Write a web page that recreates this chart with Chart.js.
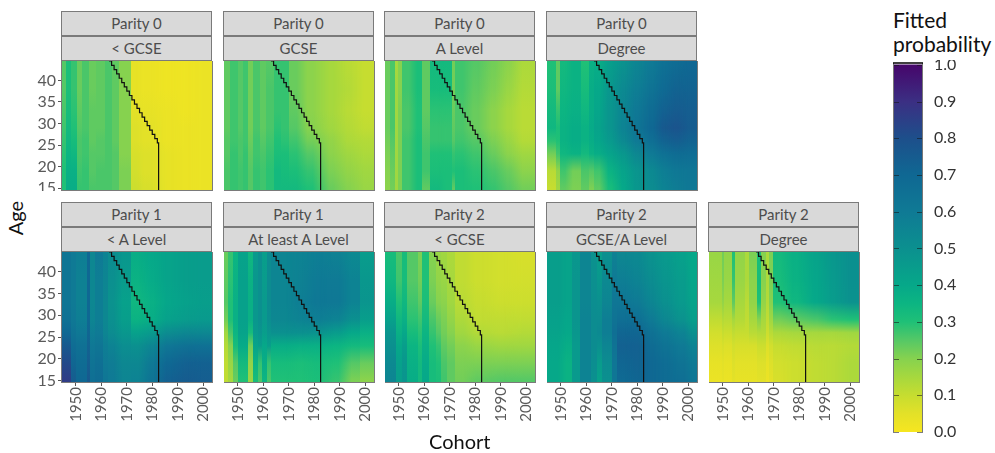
<!DOCTYPE html>
<html><head><meta charset="utf-8">
<script src="https://cdn.jsdelivr.net/npm/chart.js@4"></script>
<style>
html,body{margin:0;padding:0;background:#fff;width:995px;height:453px;overflow:hidden;font-family:Lato,sans-serif}
canvas{position:absolute;display:block}
.strip{position:absolute;box-sizing:border-box;background:#d9d9d9;border:1px solid #7a7a7a;color:#4d4d4d;font-size:15px;text-align:center;line-height:23px;height:25px;width:151px}
.t{position:absolute;color:#111;font-size:20px;white-space:nowrap}
</style></head><body>
<script>
const cohortTicks=[1950,1960,1970,1980,1990,2000];
const ageTicks=[15,20,25,30,35,40];
const legendTicks=[0,0.1,0.2,0.3,0.4,0.5,0.6,0.7,0.8,0.9,1];
const ageKnots=[44,38,33,29,26,23,19,15];
const boundaryCohort=[1963,1964,1965,1966,1967,1968,1969,1970,1971,1972,1973,1974,1975,1976,1977,1978,1979,1980,1981,1982,1982.5,1982.5];
const boundaryAge=[44.5,43.5,42.5,41.5,40.5,39.5,38.5,37.5,36.5,35.5,34.5,33.5,32.5,31.5,30.5,29.5,28.5,27.5,26.5,25.5,25.5,14];

const p0LtGcseCohort=[1944.5,1946,1948,1950.5,1952.5,1955,1958,1961.5,1964,1967,1971.5,1975,1982.5,1990,1997,2003.5];
const p0LtGcseValues=[
[25,31,28,23,26,23,24,26,24,20,4,3,2,2,3],
[25,31,28,23,26,23,24,26,24,20,4,3,2,2,3],
[26,32,29,24,26,24,24,26,24,20,5,4,3,2,3],
[27,33,30,25,26,24,24,26,24,20,6,5,3,3,3],
[28,34,32,26,27,24,25,26,24,20,6,5,3,3,3],
[29,35,34,26,27,25,25,26,25,20,7,6,4,3,3],
[30,37,37,27,28,25,26,26,25,21,8,6,4,3,3],
[30,38,38,28,28,26,26,26,25,21,9,7,4,3,3]];
const p0GcseCohort=[1944.5,1947,1950,1952,1954,1956,1958.5,1961,1964,1967,1970,1975,1982.5,1990,1997,2003.5];
const p0GcseValues=[
[24,27,25,27,22,26,24,25,28,28,23,19,15,12,10],
[24,27,25,27,22,26,24,26,28,28,23,19,15,13,10],
[24,27,25,27,22,26,24,26,28,28,24,19,15,12,10],
[24,27,25,27,22,26,24,26,29,28,25,20,16,13,11],
[25,27,26,27,23,27,25,27,30,29,27,22,18,14,13],
[25,28,26,28,24,27,26,28,31,31,29,25,19,16,14],
[26,28,27,28,25,28,27,29,33,32,31,28,21,18,16],
[26,28,27,28,25,28,27,29,33,33,33,30,23,20,17]];
const p0ALevelCohort=[1944.5,1946.5,1948.4,1949.8,1951,1955.7,1959,1962.3,1967,1970.8,1972.2,1977,1984,1990,1996,2003.5];
const p0ALevelValues=[
[23,26,15,20,27,31,24,33,33,22,27,25,22,19,14],
[23,26,16,20,27,31,24,32,32,22,27,24,21,17,13],
[23,26,16,21,26,30,24,29,29,23,26,23,19,15,12],
[23,26,16,21,26,30,25,28,28,24,26,23,19,15,12],
[22,25,16,21,27,31,26,28,28,25,27,25,21,17,13],
[21,24,16,21,27,31,27,30,30,28,29,27,23,19,16],
[20,23,16,21,27,31,27,31,31,30,31,29,26,23,19],
[19,22,16,21,27,31,24,33,31,24,31,30,28,25,22]];
const p0DegreeCohort=[1944.5,1948,1949.5,1953,1958,1961,1963,1967,1972,1977,1982.5,1988,1993,1998,2003.5];
const p0DegreeValues=[
[30,24,33,36,30,37,38,44,49,55,60,65,68,70],
[31,24,34,36,32,38,40,47,53,58,64,69,72,72],
[33,28,35,37,34,38,41,48,55,61,68,73,75,74],
[34,31,36,38,36,39,42,48,56,63,70,76,78,75],
[29,30,36,38,36,38,41,46,53,60,66,72,74,72],
[22,27,34,36,33,36,38,42,47,54,60,65,68,67],
[12,18,27,22,26,25,27,36,42,48,53,58,61,62],
[10,16,24,21,24,21,24,32,40,47,52,56,59,61]];
const p1LtALevelCohort=[1944.5,1948,1950,1954.5,1955.5,1957.5,1960.5,1962.7,1966.7,1971.5,1977,1983,1990,1997,2003.5];
const p1LtALevelValues=[
[63,60,58,70,54,60,56,52,47,38,40,42,44,45],
[63,60,57,70,54,58,55,50,45,36,39,42,44,45],
[63,60,57,70,54,58,54,49,43,34,37,41,43,44],
[65,61,58,70,55,58,54,50,44,36,38,43,45,46],
[70,64,61,71,58,60,55,52,47,43,46,52,54,54],
[76,67,65,72,61,63,58,56,51,50,55,62,65,65],
[82,71,68,74,64,66,60,59,54,54,61,70,73,73],
[86,75,70,76,66,68,62,60,55,56,64,73,75,74]];
const p1AtLeastCohort=[1944.5,1946,1948,1950,1954,1956,1958,1959.5,1961.5,1963,1971.5,1978,1985,1992,1998,2003.5];
const p1AtLeastValues=[
[23,28,35,42,34,46,50,44,52,55,56,58,57,53,45],
[24,29,36,43,36,47,50,45,52,55,57,60,60,56,47],
[25,30,37,43,37,47,50,46,52,55,58,61,61,56,48],
[22,30,37,43,37,47,50,46,51,54,56,58,56,50,44],
[16,26,35,42,32,46,48,44,48,50,50,49,45,40,37],
[13,20,32,39,22,42,44,40,44,38,37,37,35,33,32],
[11,17,25,33,18,36,28,38,28,32,31,32,30,25,23],
[11,15,23,30,17,32,26,35,26,30,30,31,28,21,19]];
const p2LtGcseCohort=[1944.5,1949,1951,1953,1957.5,1959,1962,1964.5,1966.5,1969,1972,1978,1986,1995,2003.5];
const p2LtGcseValues=[
[32,26,32,25,21,30,20,17,16,14,11,9,8,7],
[34,27,32,25,22,30,21,18,17,15,11,9,8,8],
[38,30,34,27,24,31,23,20,19,16,12,10,9,9],
[43,34,37,29,27,33,26,23,21,18,14,11,11,11],
[48,37,40,32,29,35,28,25,22,20,16,13,12,13],
[50,40,44,35,31,37,30,28,24,22,19,17,16,16],
[53,43,47,37,33,39,32,30,26,24,21,21,21,21],
[55,44,48,38,33,40,32,31,27,24,22,24,25,25]];
const p2GcseALevelCohort=[1944.5,1950.3,1954.2,1957.5,1961.7,1964,1966,1970,1972,1977,1982.5,1988,1994,2000,2003.5];
const p2GcseALevelValues=[
[44,42,47,55,49,44,50,57,54,53,49,46,43,40],
[44,42,48,55,50,47,53,60,58,56,52,48,45,41],
[44,42,48,55,51,50,55,62,62,60,55,50,46,42],
[43,41,48,56,52,52,58,64,66,66,60,54,49,44],
[42,40,47,56,52,53,58,66,71,71,65,60,56,50],
[41,38,46,56,52,50,55,64,73,73,68,64,60,56],
[40,36,46,56,51,45,52,62,71,72,70,67,64,60],
[40,36,46,56,50,43,50,62,69,71,70,68,66,62]];
const p2DegreeCohort=[1944.5,1949.5,1950.5,1953.5,1954.8,1958.8,1960.2,1963.5,1964.8,1966.8,1968.1,1969.8,1975,1982.5,1990,1997,2003.5];
const p2DegreeValues=[
[17,22,18,30,18,14,21,31,20,14,21,33,37,42,47,50],
[16,21,17,28,17,14,19,32,20,14,21,32,36,41,46,50],
[15,18,15,24,15,12,18,30,18,13,20,30,34,40,45,49],
[11,13,12,15,13,11,15,20,15,11,16,22,24,26,29,30],
[8,10,9,11,10,10,12,13,13,9,12,14,15,15,15,16],
[6,7,6,8,7,7,7,9,9,6,8,10,11,12,12,13],
[4,5,4,6,5,5,5,6,6,4,6,8,9,11,12,14],
[3,4,3,5,4,4,4,5,5,3,5,7,9,11,12,14]];

const paletteAt=[0,.05,.1,.15,.2,.25,.3,.35,.4,.5,.6,.7,.8,.9,1];
const paletteRGB=['#f6e620','#e3e128','#c6dd30','#a6d83e','#86d24f','#55c866','#1fc077','#0cb582','#06a889','#0b908f','#0f7a95','#0f6893','#1d4f8b','#3b2f83','#46066b'];
function hex(h){return [1,3,5].map(i=>parseInt(h.substr(i,2),16));}
function colour(v){
  let i=0;while(i<paletteAt.length-2&&v>paletteAt[i+1])i++;
  const t=Math.min(1,Math.max(0,(v-paletteAt[i])/(paletteAt[i+1]-paletteAt[i])));
  const a=hex(paletteRGB[i]),b=hex(paletteRGB[i+1]);
  return 'rgb('+a.map((c,k)=>Math.round(c+(b[k]-c)*t)).join(',')+')';
}
function zeroPad(s){s.paddingLeft=s.paddingRight=s.paddingTop=s.paddingBottom=0;}
const heatPlugin={id:'heat',
  beforeDatasetsDraw(chart){
    const {ctx,chartArea:a,scales:{x,y}}=chart;
    const ds=chart.data.datasets[0];
    const off=document.createElement('canvas');off.width=a.width;off.height=a.height;
    const o=off.getContext('2d');
    const map=new Map();ds.data.forEach(p=>{if(!map.has(p.x0))map.set(p.x0,[]);map.get(p.x0).push(p);});
    const cols=[...map.values()].map(list=>({list,
      p0:Math.round(x.getPixelForValue(list[0].x0))-a.left,
      p1:Math.round(x.getPixelForValue(list[0].x1))-a.left}));
    // soft edge between two wide neighbouring cells of nearly the same value
    const feather=cols.map((c,i)=>{
      if(i===0)return 0;
      const pv=cols[i-1],w=Math.min(c.p1-c.p0,pv.p1-pv.p0);
      const diff=Math.max(...c.list.map((p,k)=>Math.abs(p.v-pv.list[k].v)));
      return (w>=9&&diff<0.09)?Math.floor(w*0.9):0;
    });
    cols.forEach((c,i)=>{
      const f=feather[i],fn=i+1<cols.length?feather[i+1]:0;
      const xa=c.p0-f/2,xb=c.p1+fn/2+1;
      const t=document.createElement('canvas');t.width=a.width;t.height=a.height;
      const q=t.getContext('2d');
      const g=q.createLinearGradient(0,0,0,a.height);
      c.list.forEach(p=>{
        const s=Math.min(1,Math.max(0,(y.getPixelForValue(p.y)-a.top)/a.height));
        g.addColorStop(s,colour(p.v));
      });
      q.fillStyle=g;q.fillRect(xa,0,xb-xa,a.height);
      if(f>0){
        const m=q.createLinearGradient(xa,0,xa+f,0);
        m.addColorStop(0,'rgba(0,0,0,0)');m.addColorStop(1,'rgba(0,0,0,1)');
        q.globalCompositeOperation='destination-in';q.fillStyle=m;q.fillRect(0,0,a.width,a.height);
      }
      o.drawImage(t,0,0);
    });
    ctx.save();ctx.beginPath();ctx.rect(a.left,a.top,a.width,a.height);ctx.clip();
    ctx.drawImage(off,a.left,a.top);
    ctx.filter='blur(0.6px)';ctx.drawImage(off,a.left,a.top);
    ctx.restore();
  },
  afterDraw(chart){
    const {ctx,chartArea:a}=chart;
    ctx.save();ctx.strokeStyle='#7a7a7a';ctx.lineWidth=1;
    ctx.strokeRect(a.left-.5,a.top-.5,a.width+1,a.height+1);ctx.restore();
  }};

const PX=[62,224,385,547,709],W=150;
const ROW=[{strip:11,top:61,bottom:190,ymin:14.6},{strip:202,top:252,bottom:381,ymin:14.7}];
const panels=[
 ['Parity 0','< GCSE',0,0,p0LtGcseCohort,p0LtGcseValues],
 ['Parity 0','GCSE',1,0,p0GcseCohort,p0GcseValues],
 ['Parity 0','A Level',2,0,p0ALevelCohort,p0ALevelValues],
 ['Parity 0','Degree',3,0,p0DegreeCohort,p0DegreeValues],
 ['Parity 1','< A Level',0,1,p1LtALevelCohort,p1LtALevelValues],
 ['Parity 1','At least A Level',1,1,p1AtLeastCohort,p1AtLeastValues],
 ['Parity 2','< GCSE',2,1,p2LtGcseCohort,p2LtGcseValues],
 ['Parity 2','GCSE/A Level',3,1,p2GcseALevelCohort,p2GcseALevelValues],
 ['Parity 2','Degree',4,1,p2DegreeCohort,p2DegreeValues]];
const LEFT=40,BOTTOM=50;
function addStrip(txt,x,y){const d=document.createElement('div');d.className='strip';d.textContent=txt;d.style.left=x+'px';d.style.top=y+'px';document.body.appendChild(d);}
function addText(txt,x,y,extra){const d=document.createElement('div');d.className='t';d.textContent=txt;d.style.left=x+'px';d.style.top=y+'px';if(extra)d.style.cssText+=extra;document.body.appendChild(d);}
panels.forEach(([s1,s2,c,r,breaks,vals])=>{
  const R=ROW[r],px=PX[c];
  addStrip(s1,px-1,R.strip);addStrip(s2,px-1,R.strip+25);
  const leftM=c===0?LEFT:0,botM=r===1?BOTTOM:0;
  const cv=document.createElement('canvas');
  const cw=W+leftM+1,ch=R.bottom-R.top+botM+1;
  cv.width=cw;cv.height=ch;cv.style.width=cw+'px';cv.style.height=ch+'px';
  cv.style.left=(px-leftM)+'px';cv.style.top=R.top+'px';
  document.body.appendChild(cv);
  const cells=[];
  vals.forEach((row,ri)=>row.forEach((v,ci)=>cells.push({x:(breaks[ci]+breaks[ci+1])/2,y:ageKnots[ri],x0:breaks[ci],x1:breaks[ci+1],v:v/100})));
  const grid={drawOnChartArea:false,drawTicks:true,tickLength:4,tickColor:'#555',lineWidth:1};
  new Chart(cv,{type:'scatter',
    data:{datasets:[
      {data:cells,pointRadius:0,showLine:false},
      {data:boundaryCohort.map((x,i)=>({x,y:boundaryAge[i]})),type:'line',stepped:'before',borderColor:'#111',borderWidth:1.2,pointRadius:0,fill:false}
    ]},
    options:{responsive:false,animation:false,devicePixelRatio:1,events:[],
      layout:{padding:{right:1,top:0,bottom:r===1?0:1,left:0}},
      plugins:{legend:{display:false},tooltip:{enabled:false}},
      scales:{
        x:{type:'linear',min:1944.5,max:2003.5,display:r===1,border:{display:false},grid,
          afterBuildTicks:s=>{s.ticks=cohortTicks.map(value=>({value}));},
          afterFit:s=>{if(r===1)s.height=BOTTOM;zeroPad(s);},
          ticks:{color:'#5a5a5a',font:{family:'Lato',size:15},minRotation:90,maxRotation:90,padding:1,autoSkip:false,callback:v=>String(v)}},
        y:{type:'linear',min:R.ymin,max:44.5,display:c===0,border:{display:false},grid,
          afterBuildTicks:s=>{s.ticks=ageTicks.map(value=>({value}));},
          afterFit:s=>{if(c===0)s.width=LEFT;zeroPad(s);},
          ticks:{color:'#5a5a5a',font:{family:'Lato',size:16},padding:2,autoSkip:false,callback:v=>String(v)}}
      }},
    plugins:[heatPlugin]});
});
// legend
const lg=document.createElement('canvas');lg.width=90;lg.height=380;
lg.style.cssText='left:893px;top:60px;width:90px;height:380px';document.body.appendChild(lg);
new Chart(lg,{type:'bar',
  data:{labels:['p'],datasets:[{data:[[0,1]],barPercentage:1,categoryPercentage:1,
    backgroundColor:c=>{const a=c.chart.chartArea;if(!a)return '#888';
      const g=c.chart.ctx.createLinearGradient(0,c.chart.scales.y.getPixelForValue(1),0,c.chart.scales.y.getPixelForValue(0));
      paletteAt.forEach((p,i)=>g.addColorStop(1-p,paletteRGB[i]));return g;}}]},
  options:{responsive:false,animation:false,devicePixelRatio:1,events:[],
    layout:{padding:{top:3,bottom:8,left:0,right:0}},
    plugins:{legend:{display:false},tooltip:{enabled:false}},
    scales:{x:{display:false,afterFit:zeroPad},
      y:{position:'right',min:0,max:1.005,border:{display:false},grid:{display:false},
        afterBuildTicks:s=>{s.ticks=legendTicks.map(value=>({value}));},
        afterFit:s=>{s.width=60;zeroPad(s);},
        ticks:{color:'#333',font:{family:'Lato',size:16},padding:3,autoSkip:false,callback:v=>v.toFixed(1)}}}},
  plugins:[{id:'legendMarks',afterDatasetsDraw(chart){
    const {ctx,chartArea:a,scales:{y}}=chart;
    ctx.save();ctx.strokeStyle='rgba(20,20,20,.55)';ctx.lineWidth=1;ctx.beginPath();
    legendTicks.forEach(t=>{const p=Math.round(y.getPixelForValue(t))+.5;
      ctx.moveTo(a.left,p);ctx.lineTo(a.left+6,p);ctx.moveTo(a.right-6,p);ctx.lineTo(a.right,p);});
    ctx.stroke();
    ctx.strokeStyle='#777';ctx.beginPath();ctx.moveTo(a.left+.5,a.top);ctx.lineTo(a.left+.5,y.getPixelForValue(0));
    ctx.moveTo(a.right-.5,a.top);ctx.lineTo(a.right-.5,y.getPixelForValue(0));ctx.stroke();
    ctx.strokeStyle='#000';ctx.lineWidth=1.5;ctx.beginPath();ctx.moveTo(a.left,a.top);ctx.lineTo(a.right,a.top);ctx.stroke();
    ctx.restore();}}]});
addText('Fitted',893,7,'font-size:21px;');
addText('probability',893,31,'font-size:21px;');
addText('Cohort',429,429);
addText('Age',-2,206,'transform:rotate(-90deg);');
</script>
</body></html>
